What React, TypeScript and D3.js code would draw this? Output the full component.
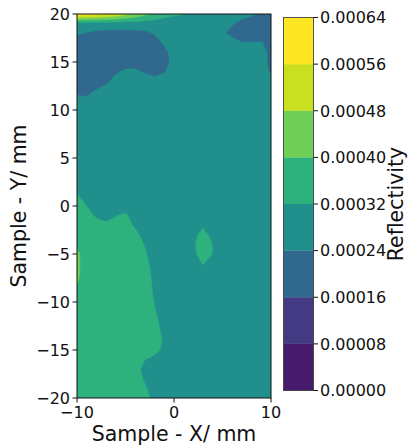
import React from 'react';
import * as d3 from 'd3';

// Grid coordinates (mm)
const xValues = [-10, -9, -8, -7, -6, -5, -4, -3, -2, -1, 0, 1, 2, 3, 4, 5, 6, 7, 8, 9, 10];
const yValues = [20, 19, 18, 17, 16, 15, 14, 13, 12, 11, 10, 9, 8, 7, 6, 5, 4, 3, 2, 1, 0,
  -1, -2, -3, -4, -5, -6, -7, -8, -9, -10, -11, -12, -13, -14, -15, -16, -17, -18, -19, -20];

// Reflectivity in units of 1e-5, one row per y (top to bottom), one column per x
const reflectivity = [
  [62, 60, 58, 56, 54, 50, 46, 42, 38, 35, 33, 32.2, 29.5, 28.5, 28, 27.5, 27, 26.5, 25, 23, 21],
  [28, 28, 28, 28, 28, 28, 28, 28, 28, 28, 28, 28, 28, 28, 28, 27, 24.5, 22, 20.5, 20, 20],
  [25, 23.5, 22.5, 22, 22, 21.5, 22, 22.5, 24.5, 28, 28, 28, 28, 28, 28, 25, 22, 20, 20, 20, 20],
  [20, 20, 20, 20, 20, 20, 20, 20, 21, 25, 28, 28, 28, 28, 28, 28, 26.5, 24.3, 24.2, 24.3, 22],
  [20, 20, 20, 20, 20, 20, 20, 20, 20, 22, 27, 28, 28, 28, 28, 28, 28, 28, 28, 27, 22],
  [20, 20, 20, 20, 20, 20, 20, 20, 20, 21.5, 26, 28, 28, 28, 28, 28, 28, 28, 28, 27, 22],
  [20, 20, 20, 20, 22.5, 25.5, 25.5, 23, 21, 23.5, 27, 28, 28, 28, 28, 28, 28, 28, 28, 27, 23],
  [20, 20, 20, 22, 27.5, 28, 28, 28, 26.5, 28, 28, 28, 28, 28, 28, 28, 28, 28, 28, 28, 26],
  [22, 22, 24.5, 28, 28, 28, 28, 28, 28, 28, 28, 28, 28, 28, 28, 28, 28, 28, 28, 28, 28],
  [26.5, 25.3, 28, 28, 28, 28, 28, 28, 28, 28, 28, 28, 28, 28, 28, 28, 28, 28, 28, 28, 28],
  [28, 28, 28, 28, 28, 28, 28, 28, 28, 28, 28, 28, 28, 28, 28, 28, 28, 28, 28, 28, 28],
  [28, 28, 28, 28, 28, 28, 28, 28, 28, 28, 28, 28, 28, 28, 28, 28, 28, 28, 28, 28, 28],
  [28, 28, 28, 28, 28, 28, 28, 28, 28, 28, 28, 28, 28, 28, 28, 28, 28, 28, 28, 28, 28],
  [28, 28, 28, 28, 28, 28, 28, 28, 28, 28, 28, 28, 28, 28, 28, 28, 28, 28, 28, 28, 28],
  [28, 28, 28, 28, 28, 28, 28, 28, 28, 28, 28, 28, 28, 28, 28, 28, 28, 28, 28, 28, 28],
  [33, 28, 28, 28, 28, 28, 28, 28, 28, 28, 28, 28, 28, 28, 28, 28, 28, 28, 28, 28, 28],
  [28, 28, 28, 28, 28, 28, 28, 28, 28, 28, 28, 28, 28, 28, 28, 28, 28, 28, 28, 28, 28],
  [28, 28, 28, 28, 28, 28, 28, 28, 28, 28, 28, 28, 28, 28, 28, 28, 28, 28, 28, 28, 28],
  [28, 28, 28, 28, 28, 28, 28, 28, 28, 28, 28, 28, 28, 28, 28, 28, 28, 28, 28, 28, 28],
  [33.3, 28, 28, 28, 28, 28, 28, 28, 28, 28, 28, 28, 28, 28, 28, 28, 28, 28, 28, 28, 28],
  [36, 31.8, 28, 28, 28, 28, 28, 28, 28, 28, 28, 28, 28, 28, 28, 28, 28, 28, 28, 28, 28],
  [36, 36, 30.4, 27.5, 31.5, 33.5, 27, 28, 28, 28, 28, 28, 28, 28, 28, 28, 28, 28, 28, 28, 28],
  [36, 36, 36, 34.5, 36, 36, 30.4, 28, 28, 28, 28, 28, 28, 30, 28, 28, 28, 28, 28, 28, 28],
  [36, 36, 36, 36, 36, 36, 35, 28, 28, 28, 28, 28, 29, 36, 28, 28, 28, 28, 28, 28, 28],
  [38, 36, 36, 36, 36, 36, 36, 31.5, 28, 28, 28, 28, 30.5, 37, 31.8, 28, 28, 28, 28, 28, 28],
  [41.7, 36, 36, 36, 36, 36, 36, 32.9, 28, 28, 28, 28, 30, 36, 31.8, 28, 28, 28, 28, 28, 28],
  [41.7, 36, 36, 36, 36, 36, 36, 35.1, 28, 28, 28, 28, 28, 32.5, 28, 28, 28, 28, 28, 28, 28],
  [41.7, 36, 36, 36, 36, 36, 36, 36, 29.2, 28, 28, 28, 28, 28, 28, 28, 28, 28, 28, 28, 28],
  [40.5, 36, 36, 36, 36, 36, 36, 36, 30.2, 28, 28, 28, 28, 28, 28, 28, 28, 28, 28, 28, 28],
  [36, 36, 36, 36, 36, 36, 36, 36, 30.9, 28, 28, 28, 28, 28, 28, 28, 28, 28, 28, 28, 28],
  [36, 36, 36, 36, 36, 36, 36, 36, 31.5, 28, 28, 28, 28, 28, 28, 28, 28, 28, 28, 28, 28],
  [36, 36, 36, 36, 36, 36, 36, 36, 32.6, 28, 28, 28, 28, 28, 28, 28, 28, 28, 28, 28, 28],
  [36, 36, 36, 36, 36, 36, 36, 36, 34.3, 28, 28, 28, 28, 28, 28, 28, 28, 28, 28, 28, 28],
  [36, 36, 36, 36, 36, 36, 36, 36, 36, 28.9, 28, 28, 28, 28, 28, 28, 28, 28, 28, 28, 28],
  [36, 36, 36, 36, 36, 36, 36, 36, 36, 30.7, 28, 28, 28, 28, 28, 28, 28, 28, 28, 28, 28],
  [36, 36, 36, 36, 36, 36, 36, 36, 36, 29.0, 28, 28, 28, 28, 28, 28, 28, 28, 28, 28, 28],
  [36, 36, 36, 36, 36, 36, 36, 32.1, 28, 28, 28, 28, 28, 28, 28, 28, 28, 28, 28, 28, 28],
  [36, 36, 36, 36, 36, 36, 36, 28.6, 28, 28, 28, 28, 28, 28, 28, 28, 28, 28, 28, 28, 28],
  [36, 36, 36, 36, 36, 36, 36, 30.9, 28, 28, 28, 28, 28, 28, 28, 28, 28, 28, 28, 28, 28],
  [36, 36, 36, 36, 36, 36, 36, 33.1, 28, 28, 28, 28, 28, 28, 28, 28, 28, 28, 28, 28, 28],
  [36, 36, 36, 36, 36, 36, 36, 36, 28, 28, 28, 28, 28, 28, 28, 28, 28, 28, 28, 28, 28],
];
const valueUnit = 1e-5;

// Contour levels (units of 1e-5) and colorbar tick labels
const levels = [0, 8, 16, 24, 32, 40, 48, 56, 64];
const levelLabels = ['0.00000', '0.00008', '0.00016', '0.00024', '0.00032', '0.00040', '0.00048', '0.00056', '0.00064'];
const bandColors = ['#481a6c', '#443a83', '#31688e', '#21908d', '#2db27d', '#6ece58', '#c8e020', '#fde725'];

const xTicks = [-10, 0, 10];
const yTicks = [-20, -15, -10, -5, 0, 5, 10, 15, 20];

const fmt = (v: number) => (v < 0 ? '\u2212' + Math.abs(v) : String(v));

export default function App() {
  const W = 409, H = 447;
  const P = { left: 77, right: 271, top: 14, bottom: 398 };
  const CB = { left: 283.5, right: 313.5, top: 17.5, bottom: 390.5 };
  const font = "'DejaVu Sans', sans-serif";
  const tickSize = 16;
  const labelSize = 20.5;

  const x = d3.scaleLinear().domain([-10, 10]).range([P.left, P.right]);
  const y = d3.scaleLinear().domain([-20, 20]).range([P.bottom, P.top]);

  const nx = xValues.length, ny = yValues.length;
  const flat = reflectivity.flat();
  const gen = d3.contours().size([nx, ny]).thresholds(levels.slice(0, -1));
  const polys = gen(flat);

  const dxStep = xValues[1] - xValues[0];
  const dyStep = yValues[1] - yValues[0];
  const proj = d3.geoTransform({
    point(this: any, cx: number, cy: number) {
      const dataX = xValues[0] + (cx - 0.5) * dxStep;
      const dataY = yValues[0] + (cy - 0.5) * dyStep;
      this.stream.point(x(dataX), y(dataY));
    },
  });
  const path = d3.geoPath(proj);

  const cbY = d3.scaleLinear().domain([levels[0], levels[levels.length - 1]]).range([CB.bottom, CB.top]);

  return (
    <svg width={W} height={H} style={{ position: 'absolute', left: 0, top: 0, background: '#fff' }}>
      <defs>
        <clipPath id="plotclip">
          <rect x={P.left} y={P.top} width={P.right - P.left} height={P.bottom - P.top} />
        </clipPath>
      </defs>
      <g clipPath="url(#plotclip)">
        {polys.map((p, i) => (
          <path key={i} d={path(p as any) || ''} fill={bandColors[i]} stroke={bandColors[i]} strokeWidth={0.5} />
        ))}
      </g>
      <rect x={P.left} y={P.top} width={P.right - P.left} height={P.bottom - P.top} fill="none" stroke="#111" strokeWidth={1} />

      {/* Y axis ticks */}
      {yTicks.map((t) => (
        <g key={'y' + t}>
          <line x1={P.left - 4.5} x2={P.left} y1={y(t)} y2={y(t)} stroke="#111" strokeWidth={1} />
          <text x={P.left - 7} y={y(t)} dy="0.36em" textAnchor="end" fontFamily={font} fontSize={tickSize} fill="#111">{fmt(t)}</text>
        </g>
      ))}
      {/* X axis ticks */}
      {xTicks.map((t) => (
        <g key={'x' + t}>
          <line x1={x(t)} x2={x(t)} y1={P.bottom} y2={P.bottom + 4.5} stroke="#111" strokeWidth={1} />
          <text x={x(t)} y={P.bottom + 19.5} textAnchor="middle" fontFamily={font} fontSize={tickSize} fill="#111">{fmt(t)}</text>
        </g>
      ))}
      <text x={(P.left + P.right) / 2} y={441} textAnchor="middle" fontFamily={font} fontSize={labelSize} fill="#111">Sample - X/ mm</text>
      <text transform={`translate(26, ${(P.top + P.bottom) / 2}) rotate(-90)`} textAnchor="middle" fontFamily={font} fontSize={labelSize} fill="#111">Sample - Y/ mm</text>

      {/* Colorbar */}
      {bandColors.map((c, i) => (
        <rect key={'cb' + i} x={CB.left} width={CB.right - CB.left} y={cbY(levels[i + 1])} height={cbY(levels[i]) - cbY(levels[i + 1])} fill={c} stroke={c} strokeWidth={0.3} />
      ))}
      <rect x={CB.left} y={CB.top} width={CB.right - CB.left} height={CB.bottom - CB.top} fill="none" stroke="#444" strokeWidth={0.9} />
      {levels.map((l, i) => (
        <g key={'cbt' + i}>
          <line x1={CB.right} x2={CB.right + 4.5} y1={cbY(l)} y2={cbY(l)} stroke="#111" strokeWidth={1} />
          <text x={CB.right + 6.5} y={cbY(l)} dy="0.36em" fontFamily={font} fontSize={tickSize} fill="#111">{levelLabels[i]}</text>
        </g>
      ))}
      <text transform={`translate(403, ${(CB.top + CB.bottom) / 2}) rotate(-90)`} textAnchor="middle" fontFamily={font} fontSize={labelSize} fill="#111">Reflectivity</text>
    </svg>
  );
}
